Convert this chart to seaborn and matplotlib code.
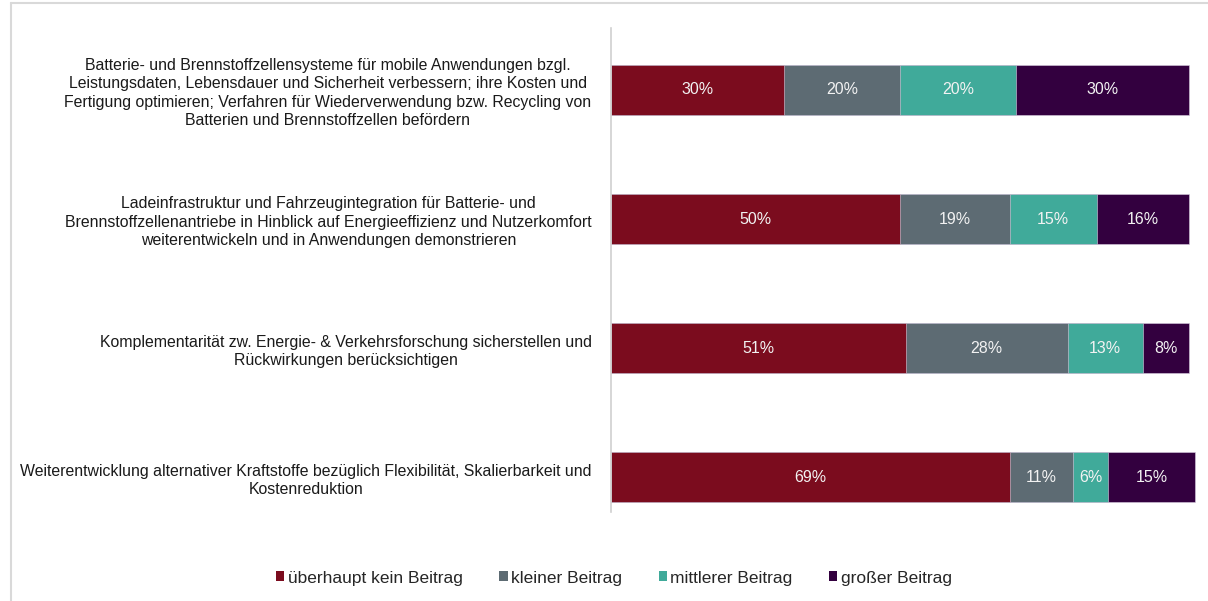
import matplotlib
matplotlib.use("Agg")
import matplotlib.pyplot as plt
import seaborn as sns
import numpy as np
import pandas as pd
from matplotlib.lines import Line2D
from matplotlib.patches import Patch

categories = [
    "Batterie- und Brennstoffzellensysteme für mobile Anwendungen bzgl.\nLeistungsdaten, Lebensdauer und Sicherheit verbessern; ihre Kosten und\nFertigung optimieren; Verfahren für Wiederverwendung bzw. Recycling von\nBatterien und Brennstoffzellen befördern",
    "Ladeinfrastruktur und Fahrzeugintegration für Batterie- und\nBrennstoffzellenantriebe in Hinblick auf Energieeffizienz und Nutzerkomfort\nweiterentwickeln und in Anwendungen demonstrieren",
    "Komplementarität zw. Energie- & Verkehrsforschung sicherstellen und\nRückwirkungen berücksichtigen",
    "Weiterentwicklung alternativer Kraftstoffe bezüglich Flexibilität, Skalierbarkeit und\nKostenreduktion",
]
series_names = ["überhaupt kein Beitrag", "kleiner Beitrag", "mittlerer Beitrag", "großer Beitrag"]
kein = [30, 50, 51, 69]
klein = [20, 19, 28, 11]
mittel = [20, 15, 13, 6]
gross = [30, 16, 8, 15]
colors = ["#7B0C1E", "#5D6B73", "#40AA9A", "#33003F"]

sns.set_theme(style="white")
plt.rcParams["font.family"] = ["Liberation Sans", "DejaVu Sans"]

fig = plt.figure(figsize=(12.08, 6.01), dpi=100)
W, H = 1208, 601
ax = fig.add_axes([611 / W, 1 - 512 / H, (1189 - 611) / W, (512 - 28) / H])

values = [kein, klein, mittel, gross]
cum = np.cumsum(np.array(values), axis=0)
for i in range(len(values) - 1, -1, -1):
    d = pd.DataFrame({"cat": [str(k) for k in range(len(categories))], "val": cum[i]})
    sns.barplot(data=d, x="val", y="cat", orient="h", color=colors[i], saturation=1,
                width=0.39, ax=ax, edgecolor="#d8cde0", linewidth=0.4, clip_on=False)

for i in range(len(values)):
    left = cum[i] - np.array(values[i])
    for k in range(len(categories)):
        ax.text(left[k] + values[i][k] / 2, k, f"{values[i][k]}%", ha="center", va="center",
                color="#f2f2f2", fontsize=11.5)

ax.set_xlim(0, 100)
ax.set_ylim(3.27, -0.48)
ax.set_xlabel("")
ax.set_ylabel("")
ax.set_xticks([])
ax.set_yticks(range(len(categories)))
ax.set_yticklabels(categories, fontsize=11.4, multialignment="center", color="#1a1a1a",
                   linespacing=1.27)
ax.tick_params(axis="y", length=0, pad=14)
for s in ["top", "right", "bottom"]:
    ax.spines[s].set_visible(False)
ax.spines["left"].set_color("#d0d0d0")
ax.spines["left"].set_linewidth(1.2)

handles = [Patch(facecolor=c, edgecolor="none") for c in colors]
fig.legend(handles, series_names, loc="center", bbox_to_anchor=(614 / W, 1 - 578 / H), ncol=4,
           frameon=False, fontsize=12.5, handlelength=0.48, handleheight=0.48, handletextpad=0.2,
           columnspacing=2.1)

fig.add_artist(Line2D([11 / W, 11 / W], [0, 1 - 3 / H], color="#d9d9d9", lw=1.5))
fig.add_artist(Line2D([11 / W, 1], [1 - 3 / H, 1 - 3 / H], color="#d9d9d9", lw=1.5))

fig.savefig("out.png", dpi=100, facecolor="white")
